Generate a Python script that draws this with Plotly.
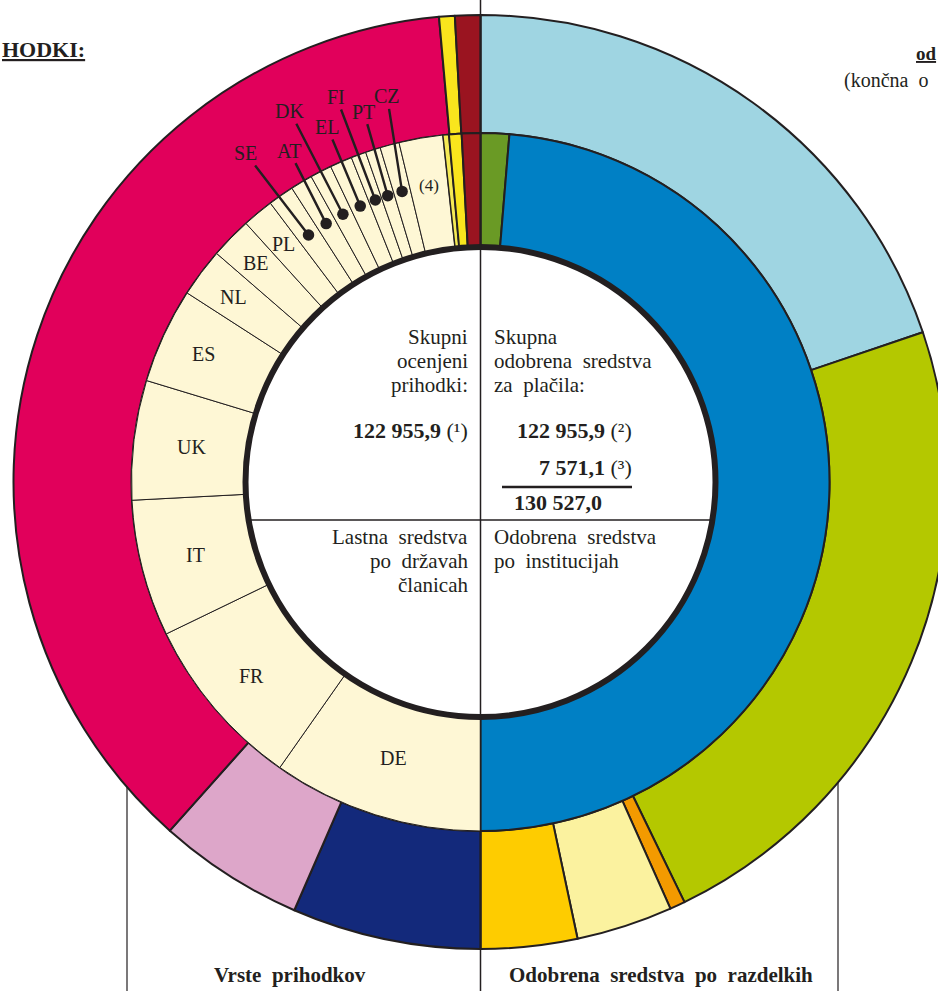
import math
import plotly.graph_objects as go

# ---------------- data (EUR million) ----------------
# Outer ring, right half (clockwise from 12 o'clock): appropriations by heading
heading_names = ["Razdelek 1", "Razdelek 2", "Razdelek 3", "Razdelek 4", "Razdelek 5"]
heading_values = [48705.0, 56560.0, 1298.0, 8197.0, 8196.0]

# Outer ring, left half (clockwise from 6 o'clock): types of revenue
revenue_names = ["Tradicionalna lastna sredstva", "Sredstva iz DDV", "Sredstva iz BND",
                 "Presežek", "Drugi prihodki"]
revenue_values = [16052.6, 12432.2, 90987.6, 1332.0, 2151.3]

# Inner ring, right half (clockwise from 12 o'clock): appropriations by institution
institution_names = ["Druge institucije", "Komisija"]
institution_values = [3252.0, 119704.0]

# Inner ring, left half (clockwise from 6 o'clock): own resources by member state
member_names = ["DE", "FR", "IT", "UK", "ES", "NL", "BE", "PL", "SE", "AT", "DK",
                "EL", "FI", "PT", "CZ", "(4)", "Popravek", "Presežek", "Drugi prihodki"]
member_values = [23976.0, 19878.0, 15574.0, 13593.0, 10861.0, 5533.0, 4713.0, 3552.0,
                 2937.0, 2527.0, 2459.0, 2527.0, 1708.0, 1708.0, 2186.0, 4987.0,
                 683.0, 1434.0, 2118.0]

total_revenue = "122 955,9"
total_payments = "122 955,9"
extra_payments = "7 571,1"
grand_total = "130 527,0"

# ---------------- styling ----------------
heading_colors = ["#9FD5E2", "#B4C800", "#F39A00", "#FBF29F", "#FECC00"]
revenue_colors = ["#13297B", "#DDA6C9", "#E1005B", "#F9E51D", "#9A1420"]
institution_colors = ["#6A9A25", "#0080C5"]
BEIGE = "#FEF7D5"
member_colors = [BEIGE] * 16 + ["#F5EA55", "#F9E51D", "#9A1420"]
member_line_w = [1] * 16 + [1.5, 2, 2]

W, H = 962, 991
CX, CY = 480.5, 482.0
R_OUT, R_MID, R_IN = 467.0, 349.0, 235.0
FONT = "Liberation Serif"
INK = "#231F20"


def px(x):
    return x / W


def py(y):
    return 1 - y / H


def half(vals):
    s = sum(vals)
    return [v / s * 0.5 for v in vals]


def mid_angles(vals, start):
    s = sum(vals)
    out, a = [], start
    for v in vals:
        span = v / s * 180.0
        out.append(a + span / 2)
        a += span
    return out


def polar(theta, r):
    t = math.radians(theta)
    return CX + r * math.sin(t), CY - r * math.cos(t)


fig = go.Figure()

fig.add_trace(go.Pie(
    values=half(heading_values) + half(revenue_values),
    labels=heading_names + revenue_names,
    marker=dict(colors=heading_colors + revenue_colors, line=dict(color=INK, width=2)),
    hole=R_MID / R_OUT, sort=False, direction="clockwise", rotation=0,
    textinfo="none", hoverinfo="label", showlegend=False,
    domain=dict(x=[px(CX - R_OUT), px(CX + R_OUT)], y=[py(CY + R_OUT), py(CY - R_OUT)]),
))

fig.add_trace(go.Pie(
    values=half(institution_values) + half(member_values),
    labels=institution_names + ["MS " + m for m in member_names],
    marker=dict(colors=institution_colors + member_colors,
                line=dict(color=INK, width=[2, 2] + member_line_w)),
    hole=R_IN / R_MID, sort=False, direction="clockwise", rotation=0,
    textinfo="none", hoverinfo="label", showlegend=False,
    domain=dict(x=[px(CX - R_MID), px(CX + R_MID)], y=[py(CY + R_MID), py(CY - R_MID)]),
))

shapes = []
# thick ring around the white centre
shapes.append(dict(type="circle", xref="paper", yref="paper",
                   x0=px(CX - R_IN), x1=px(CX + R_IN), y0=py(CY + R_IN), y1=py(CY - R_IN),
                   line=dict(color=INK, width=6)))
# vertical divider through whole chart
shapes.append(dict(type="line", xref="paper", yref="paper", x0=px(CX), x1=px(CX),
                   y0=0, y1=1, line=dict(color=INK, width=1.5)))
# horizontal divider in the centre
HY = 520.0
hw = math.sqrt(R_IN ** 2 - (HY - CY) ** 2)
shapes.append(dict(type="line", xref="paper", yref="paper", x0=px(CX - hw), x1=px(CX + hw),
                   y0=py(HY), y1=py(HY), line=dict(color=INK, width=1.5)))
# sum rule
shapes.append(dict(type="line", xref="paper", yref="paper", x0=px(502), x1=px(632),
                   y0=py(487), y1=py(487), line=dict(color=INK, width=2.5)))
# lower bracket lines
for bx in (127.0, 838.0):
    dy = math.sqrt(R_OUT ** 2 - (bx - CX) ** 2)
    shapes.append(dict(type="line", xref="paper", yref="paper", x0=px(bx), x1=px(bx),
                       y0=py(CY + dy), y1=0, line=dict(color=INK, width=1.2)))

ann = []


def text(x, y, s, size=21, anchor="center", bold=False):
    if bold:
        s = "<b>" + s + "</b>"
    ann.append(dict(x=px(x), y=py(y), xref="paper", yref="paper", text=s, showarrow=False,
                    xanchor=anchor, yanchor="middle",
                    font=dict(family=FONT, size=size, color=INK)))


# member-state labels inside slices
ms_angles = mid_angles(member_values, 180.0)
label_r = {"DE": 289, "FR": 300, "IT": 294, "UK": 291, "ES": 305, "NL": 309,
           "BE": 314, "PL": 309, "(4)": 301}
for name, ang in zip(member_names, ms_angles):
    if name in label_r:
        x, y = polar(ang, label_r[name])
        text(x, y, name, size=20 if name != "(4)" else 17)

# labels with leader lines (offset of the label from the dot, in px)
leader = {"SE": (-63, -82), "AT": (-37, -73), "DK": (-53, -103), "EL": (-33, -79),
          "FI": (-39, -103), "PT": (-24, -84), "CZ": (-15, -95)}
for name, ang in zip(member_names, ms_angles):
    if name in leader:
        x, y = polar(ang, 301)
        ax, ay = leader[name]
        ann.append(dict(x=px(x), y=py(y), xref="paper", yref="paper", text=name,
                        showarrow=True, arrowhead=6, arrowsize=1.2, arrowwidth=2.4,
                        arrowcolor=INK, ax=ax, ay=ay, standoff=0,
                        font=dict(family=FONT, size=20, color=INK)))

# centre texts
text(470, 337, "Skupni", anchor="right")
text(470, 361, "ocenjeni", anchor="right")
text(470, 385, "prihodki:", anchor="right")
text(470, 430, "<b>" + total_revenue + "</b> (¹)", size=22, anchor="right")
text(492, 337, "Skupna", anchor="left")
text(492, 361, "odobrena  sredstva", anchor="left")
text(492, 385, "za  plačila:", anchor="left")
text(634, 430, "<b>" + total_payments + "</b> (²)", size=22, anchor="right")
text(634, 467, "<b>" + extra_payments + "</b> (³)", size=22, anchor="right")
text(512, 502, grand_total, size=22, anchor="left", bold=True)
text(470, 537, "Lastna  sredstva", anchor="right")
text(470, 561, "po  državah", anchor="right")
text(470, 585, "članicah", anchor="right")
text(492, 537, "Odobrena  sredstva", anchor="left")
text(492, 561, "po  institucijah", anchor="left")

# headings (only the parts that are visible in the frame)
text(0, 50, "<u>HODKI:</u>", size=22, anchor="left", bold=True)
text(914, 53, "<u>od</u>", size=19, anchor="left", bold=True)
text(842, 80, "(končna  o", size=20, anchor="left")
text(290, 975, "Vrste  prihodkov", size=21, bold=True)
text(661, 975, "Odobrena  sredstva  po  razdelkih", size=21, bold=True)

fig.update_layout(
    width=W, height=H, autosize=False,
    margin=dict(l=0, r=0, t=0, b=0),
    paper_bgcolor="white", plot_bgcolor="white",
    shapes=shapes, annotations=ann, showlegend=False,
)

fig.write_html("out.html", config={"displayModeBar": False},
               post_script="document.body.style.margin='0';document.body.style.overflow='hidden';")
